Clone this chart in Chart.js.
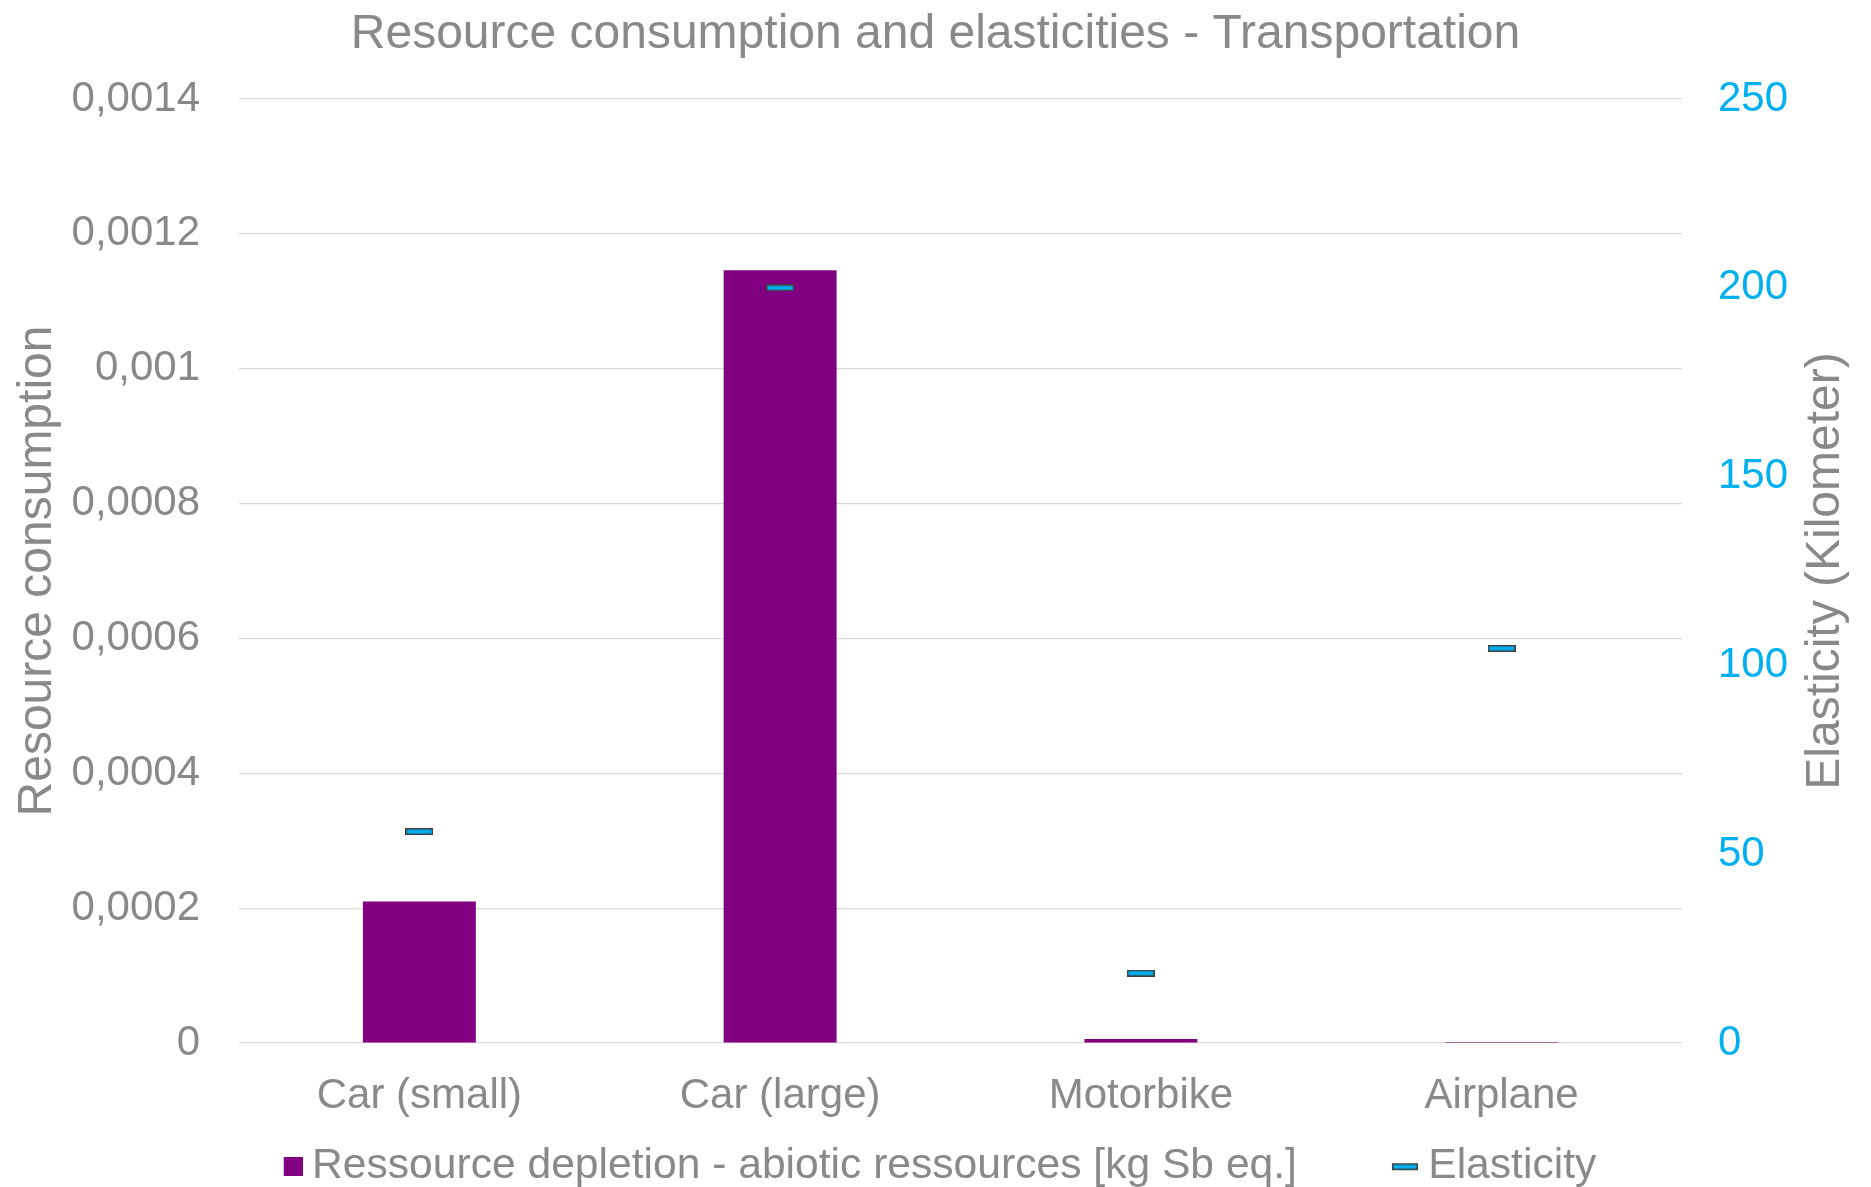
<!DOCTYPE html>
<html>
<head>
<meta charset="utf-8">
<title>Resource consumption and elasticities - Transportation</title>
<script src="https://cdn.jsdelivr.net/npm/chart.js@4/dist/chart.umd.min.js"></script>
<style>
  html, body { margin: 0; padding: 0; background: #fff; }
  #wrap { width: 1871px; height: 1187px; }
</style>
</head>
<body>
<div id="wrap"><canvas id="chart"></canvas></div>
<script>
const categories = ['Car (small)', 'Car (large)', 'Motorbike', 'Airplane'];
const depletion = [0.00021, 0.001146, 0.000006, 0.0000015]; // kg Sb eq.
const elasticity = [56, 200, 18.5, 104.5]; // km
const leftTicks = ['0', '0,0002', '0,0004', '0,0006', '0,0008', '0,001', '0,0012', '0,0014'];
const rightTicks = ['0', '50', '100', '150', '200', '250'];

const GREY = '#898989';
const BLUE = '#00B0F0';
const PURPLE = '#800080';
const FONT = 'Liberation Sans, Arial, sans-serif';

// small dash used as the elasticity marker
const makeDash = (w, h) => {
    const c = document.createElement('canvas');
    c.width = w;
    c.height = h;
    const g = c.getContext('2d');
    g.fillStyle = '#404040';
    g.fillRect(0, 0, w, h);
    g.fillStyle = BLUE;
    g.fillRect(1.5, 1.5, w - 3, h - 3);
    return c;
};

// legend swatches sit at the right end of a transparent image,
// so they end up close to the label text
const LEG_W = 96;
const LEG_PAD = 14;
const PAD_RIGHT = 80;
const legendImage = (kind) => {
    const c = document.createElement('canvas');
    const g = c.getContext('2d');
    if (kind === 'bar') {
        c.width = LEG_W + 24;
        c.height = 19;
        g.fillStyle = PURPLE;
        g.fillRect(c.width - 19, 0, 19, 19);
    } else {
        c.width = LEG_W + 22;
        c.height = 19;
        g.fillStyle = '#404040';
        g.fillRect(c.width - 26, 6, 26, 7);
        g.fillStyle = BLUE;
        g.fillRect(c.width - 24.5, 7.5, 23, 4);
    }
    return c;
};

// keeps the title centred on the whole canvas and draws the right axis
// title reading bottom-to-top like the left one
const titles = {
    id: 'titles',
    afterLayout(chart) {
        const t = chart.titleBlock;
        if (t) {
            t.left += PAD_RIGHT / 2;
            t.right += PAD_RIGHT / 2;
        }
    },
    afterDraw(chart) {
        const { ctx, chartArea } = chart;
        ctx.save();
        ctx.translate(1826, (chartArea.top + chartArea.bottom) / 2);
        ctx.rotate(-Math.PI / 2);
        ctx.fillStyle = GREY;
        ctx.font = '48px ' + FONT;
        ctx.textAlign = 'center';
        ctx.textBaseline = 'middle';
        ctx.fillText('Elasticity (Kilometer)', 0, 0);
        ctx.restore();
    }
};

new Chart(document.getElementById('chart'), {
    data: {
        labels: categories,
        datasets: [
            {
                type: 'line',
                label: 'Elasticity',
                data: elasticity,
                yAxisID: 'y1',
                showLine: false,
                pointStyle: makeDash(28, 7),
                pointRadius: 10,
                pointHoverRadius: 10,
                order: 0
            },
            {
                type: 'bar',
                label: 'Ressource depletion - abiotic ressources [kg Sb eq.]',
                data: depletion,
                yAxisID: 'y',
                backgroundColor: PURPLE,
                barPercentage: 1,
                categoryPercentage: 0.313,
                order: 1
            }
        ]
    },
    plugins: [titles],
    options: {
        responsive: true,
        maintainAspectRatio: false,
        animation: false,
        layout: { padding: { top: 0, left: 0, right: PAD_RIGHT, bottom: -11 } },
        plugins: {
            title: {
                display: true,
                text: 'Resource consumption and elasticities - Transportation',
                color: GREY,
                font: { family: FONT, size: 48, weight: 'normal' },
                padding: { top: 6, bottom: 35.4 }
            },
            legend: {
                position: 'bottom',
                labels: {
                    color: GREY,
                    font: { family: FONT, size: 42.6 },
                    padding: LEG_PAD,
                    usePointStyle: true,
                    pointStyleWidth: LEG_W,
                    generateLabels: (chart) => [
                        { text: chart.data.datasets[1].label, pointStyle: legendImage('bar'), datasetIndex: 1, fontColor: GREY, lineWidth: 0 },
                        { text: chart.data.datasets[0].label, pointStyle: legendImage('line'), datasetIndex: 0, fontColor: GREY, lineWidth: 0 }
                    ]
                }
            },
            tooltip: { enabled: false }
        },
        scales: {
            x: {
                grid: { display: false },
                border: { display: false },
                ticks: { color: GREY, font: { family: FONT, size: 42 }, padding: 20 },
                afterFit: (s) => { s.height = 88.4; }
            },
            y: {
                position: 'left',
                min: 0,
                max: 0.0014,
                grid: { color: '#d9d9d9', lineWidth: 1.2, drawTicks: false },
                border: { display: false },
                ticks: {
                    stepSize: 0.0002,
                    color: GREY,
                    font: { family: FONT, size: 42 },
                    padding: 39,
                    callback: (v, i) => leftTicks[i]
                },
                title: {
                    display: true,
                    text: 'Resource consumption',
                    color: GREY,
                    font: { family: FONT, size: 48 },
                    padding: { top: 9, bottom: 0 }
                },
                afterFit: (s) => { s.width = 239; }
            },
            y1: {
                position: 'right',
                min: 0,
                max: 250,
                grid: { display: false, drawTicks: false },
                border: { display: false },
                ticks: {
                    stepSize: 50,
                    color: BLUE,
                    font: { family: FONT, size: 42 },
                    padding: 36,
                    callback: (v, i) => rightTicks[i]
                },
                afterFit: (s) => { s.width = 189 - PAD_RIGHT; }
            }
        }
    }
});
</script>
</body>
</html>
